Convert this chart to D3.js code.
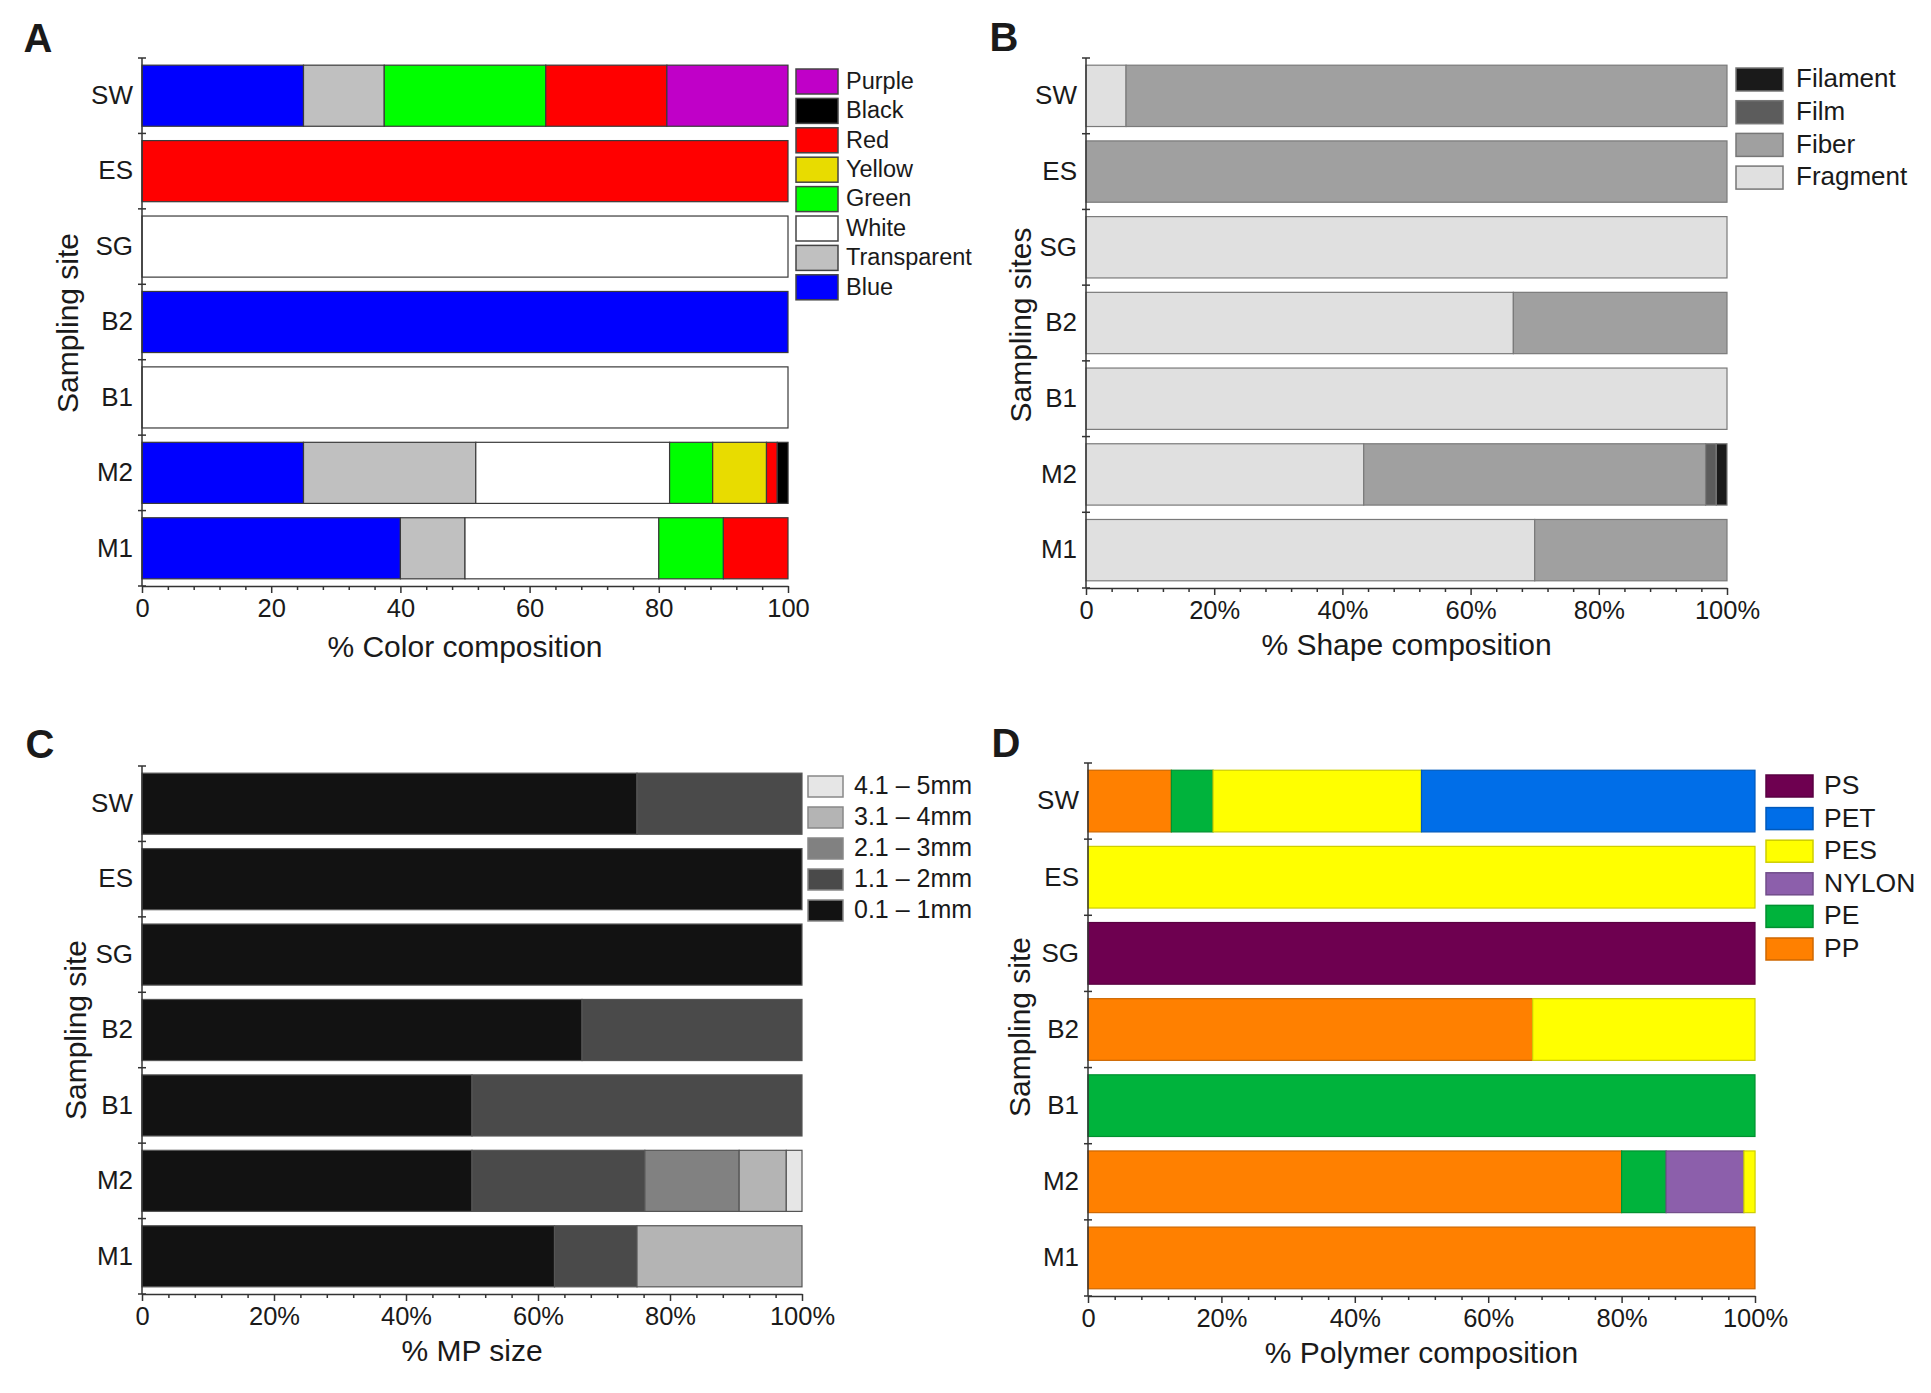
<!DOCTYPE html>
<html>
<head>
<meta charset="utf-8">
<script src="https://cdn.jsdelivr.net/npm/d3@7"></script>
<style>
  body { margin: 0; background: #fff; }
  text { font-family: "Liberation Sans", Arial, sans-serif; fill: #1a1a1a; }
</style>
</head>
<body>
<div id="chart"></div>
<script>
let width = 1931
let height = 1393

// sampling sites, top to bottom
let sites = ['SW', 'ES', 'SG', 'B2', 'B1', 'M2', 'M1']

// A: colour composition (stack order left to right)
let colorKeys = ['Blue', 'Transparent', 'White', 'Green', 'Yellow', 'Red', 'Black', 'Purple']
let colorFills = ['#0000ff', '#c0c0c0', '#ffffff', '#00ff00', '#e8dc00', '#ff0000', '#000000', '#c000c8']
let colorValues = [
  [25, 12.5, 0, 25, 0, 18.75, 0, 18.75],
  [0, 0, 0, 0, 0, 100, 0, 0],
  [0, 0, 100, 0, 0, 0, 0, 0],
  [100, 0, 0, 0, 0, 0, 0, 0],
  [0, 0, 100, 0, 0, 0, 0, 0],
  [25, 26.67, 30, 6.67, 8.33, 1.67, 1.67, 0],
  [40, 10, 30, 10, 0, 10, 0, 0]
]

// B: shape composition
let shapeKeys = ['Fragment', 'Fiber', 'Film', 'Filament']
let shapeFills = ['#e0e0e0', '#a0a0a0', '#5c5c5c', '#1a1a1a']
let shapeValues = [
  [6.25, 93.75, 0, 0],
  [0, 100, 0, 0],
  [100, 0, 0, 0],
  [66.67, 33.33, 0, 0],
  [100, 0, 0, 0],
  [43.33, 53.33, 1.67, 1.67],
  [70, 30, 0, 0]
]

// C: MP size
let sizeKeys = ['0.1 – 1mm', '1.1 – 2mm', '2.1 – 3mm', '3.1 – 4mm', '4.1 – 5mm']
let sizeFills = ['#121212', '#4a4a4a', '#818181', '#b4b4b4', '#e6e6e6']
let sizeValues = [
  [75, 25, 0, 0, 0],
  [100, 0, 0, 0, 0],
  [100, 0, 0, 0, 0],
  [66.67, 33.33, 0, 0, 0],
  [50, 50, 0, 0, 0],
  [50, 26.19, 14.29, 7.14, 2.38],
  [62.5, 12.5, 0, 25, 0]
]

// D: polymer composition
let polymerKeys = ['PP', 'PE', 'NYLON', 'PES', 'PET', 'PS']
let polymerFills = ['#ff8000', '#00b33c', '#8c5fab', '#ffff00', '#006ee8', '#6e0050']
let polymerValues = [
  [12.5, 6.25, 0, 31.25, 50, 0],
  [0, 0, 0, 100, 0, 0],
  [0, 0, 0, 0, 0, 100],
  [66.67, 0, 0, 33.33, 0, 0],
  [0, 100, 0, 0, 0, 0],
  [80, 6.67, 11.67, 1.67, 0, 0],
  [100, 0, 0, 0, 0, 0]
]

let majorTicks = [0, 20, 40, 60, 80, 100]

let svg = d3.select('#chart').append('svg').attr('width', width).attr('height', height)

drawPanel({
  label: 'A', labelX: 38, labelY: 38,
  keys: colorKeys, fills: colorFills, values: colorValues,
  x0: 142, x1: 788, yTop: 58, yBot: 586,
  stroke: d => '#3a3a3a', swStroke: d => '#444',
  pct: false, xTitle: '% Color composition', xTitleY: 649,
  yTitle: 'Sampling site', yTitleX: 70, yTitleY: 323,
  legX: 796, legY: 69, legStep: 29.4, legW: 42, legH: 25, legFont: 23.5, legGap: 8
})

drawPanel({
  label: 'B', labelX: 1004, labelY: 37,
  keys: shapeKeys, fills: shapeFills, values: shapeValues,
  x0: 1086, x1: 1727, yTop: 58, yBot: 588,
  stroke: d => '#7a7a7a', swStroke: d => '#777',
  pct: true, xTitle: '% Shape composition', xTitleY: 647,
  yTitle: 'Sampling sites', yTitleX: 1023, yTitleY: 325,
  legX: 1736, legY: 68, legStep: 32.7, legW: 47, legH: 23, legFont: 26, legGap: 13
})

drawPanel({
  label: 'C', labelX: 40, labelY: 744,
  keys: sizeKeys, fills: sizeFills, values: sizeValues,
  x0: 142, x1: 802, yTop: 766, yBot: 1294,
  stroke: d => '#555', swStroke: d => '#888',
  pct: true, xTitle: '% MP size', xTitleY: 1353,
  yTitle: 'Sampling site', yTitleX: 78, yTitleY: 1030,
  legX: 808, legY: 776, legStep: 31, legW: 35, legH: 21, legFont: 25, legGap: 11
})

drawPanel({
  label: 'D', labelX: 1006, labelY: 743,
  keys: polymerKeys, fills: polymerFills, values: polymerValues,
  x0: 1088, x1: 1755, yTop: 763, yBot: 1296,
  stroke: c => d3.color(c).darker(0.6), swStroke: c => d3.color(c).darker(0.6),
  pct: true, xTitle: '% Polymer composition', xTitleY: 1355,
  yTitle: 'Sampling site', yTitleX: 1022, yTitleY: 1027,
  legX: 1766, legY: 775, legStep: 32.6, legW: 47, legH: 22, legFont: 26.5, legGap: 11
})

function drawPanel(p) {
  let rows = sites.map((s, i) => {
    let item = {site: s}
    p.keys.forEach((k, j) => { item[k] = p.values[i][j] })
    return item
  })
  let stacked = d3.stack().keys(p.keys)(rows)
  let color = d3.scaleOrdinal().domain(p.keys).range(p.fills)

  let x = d3.scaleLinear().domain([0, 100]).range([p.x0, p.x1])
  let y = d3.scaleBand().domain(sites).range([p.yTop, p.yBot])
    .paddingInner(0.19).paddingOuter(0.095)

  let g = svg.append('g')

  // bars
  let layers = g.selectAll('.layer').data(stacked).enter().append('g')
    .attr('fill', d => color(d.key))
    .attr('stroke', d => p.stroke(color(d.key)))
  layers.selectAll('rect').data(d => d.filter(v => v[1] - v[0] > 0)).enter().append('rect')
    .attr('x', d => x(d[0]))
    .attr('y', d => y(d.data.site))
    .attr('width', d => x(d[1]) - x(d[0]))
    .attr('height', y.bandwidth())
    .attr('stroke-width', 1.2)

  // y axis: line + ticks at band boundaries
  g.append('line').attr('x1', p.x0).attr('x2', p.x0).attr('y1', p.yTop).attr('y2', p.yBot)
    .attr('stroke', '#333').attr('stroke-width', 1.5)
  d3.range(sites.length + 1).forEach(i => {
    let yy = p.yTop + i * y.step()
    g.append('line').attr('x1', p.x0 - 4).attr('x2', p.x0 + 4).attr('y1', yy).attr('y2', yy)
      .attr('stroke', '#333').attr('stroke-width', 1.5)
  })
  let yAxis = g.append('g').attr('transform', 'translate(' + p.x0 + ',0)')
    .call(d3.axisLeft(y).tickSize(0).tickPadding(9))
  yAxis.select('.domain').remove()
  yAxis.selectAll('text').style('font-size', '26px').style('font-family', '"Liberation Sans", Arial, sans-serif')
    .attr('fill', '#1a1a1a')

  // x axis
  let minor = d3.range(0, 101, 4).filter(v => !majorTicks.includes(v))
  let xMinor = g.append('g').attr('transform', 'translate(0,' + p.yBot + ')')
    .call(d3.axisBottom(x).tickValues(minor).tickSize(4).tickFormat(''))
  xMinor.select('.domain').remove()
  xMinor.selectAll('line').attr('stroke', '#333').attr('stroke-width', 1.5)
  let xAxis = g.append('g').attr('transform', 'translate(0,' + p.yBot + ')')
    .call(d3.axisBottom(x).tickValues(majorTicks).tickSize(7).tickSizeOuter(0).tickPadding(6)
      .tickFormat(d => (p.pct && d > 0) ? d + '%' : d))
  xAxis.select('.domain').attr('stroke', '#333').attr('stroke-width', 1.5)
  xAxis.selectAll('line').attr('stroke', '#333').attr('stroke-width', 1.5)
  xAxis.selectAll('text').style('font-size', '25.5px').style('font-family', '"Liberation Sans", Arial, sans-serif')
    .attr('fill', '#1a1a1a')

  // titles
  g.append('text').attr('x', (p.x0 + p.x1) / 2).attr('y', p.xTitleY).attr('text-anchor', 'middle')
    .attr('dominant-baseline', 'middle').style('font-size', '30px').text(p.xTitle)
  g.append('text').attr('transform', 'translate(' + p.yTitleX + ',' + p.yTitleY + ') rotate(-90)')
    .attr('text-anchor', 'middle').attr('dominant-baseline', 'middle').style('font-size', '30px').text(p.yTitle)
  g.append('text').attr('x', p.labelX).attr('y', p.labelY).attr('text-anchor', 'middle')
    .attr('dominant-baseline', 'central').style('font-size', '40px').style('font-weight', 'bold')
    .attr('fill', '#000').text(p.label)

  // legend, reversed order (top of stack first)
  let legKeys = p.keys.slice().reverse()
  let legend = g.selectAll('.legend').data(legKeys).enter().append('g')
    .attr('transform', (d, i) => 'translate(' + p.legX + ',' + (p.legY + i * p.legStep) + ')')
  legend.append('rect').attr('width', p.legW).attr('height', p.legH)
    .attr('fill', d => color(d)).attr('stroke', d => p.swStroke(color(d))).attr('stroke-width', 1.5)
  legend.append('text').attr('x', p.legW + p.legGap).attr('y', p.legH / 2 + 1)
    .attr('dominant-baseline', 'middle').style('font-size', p.legFont + 'px').text(d => d)
}
</script>
</body>
</html>
